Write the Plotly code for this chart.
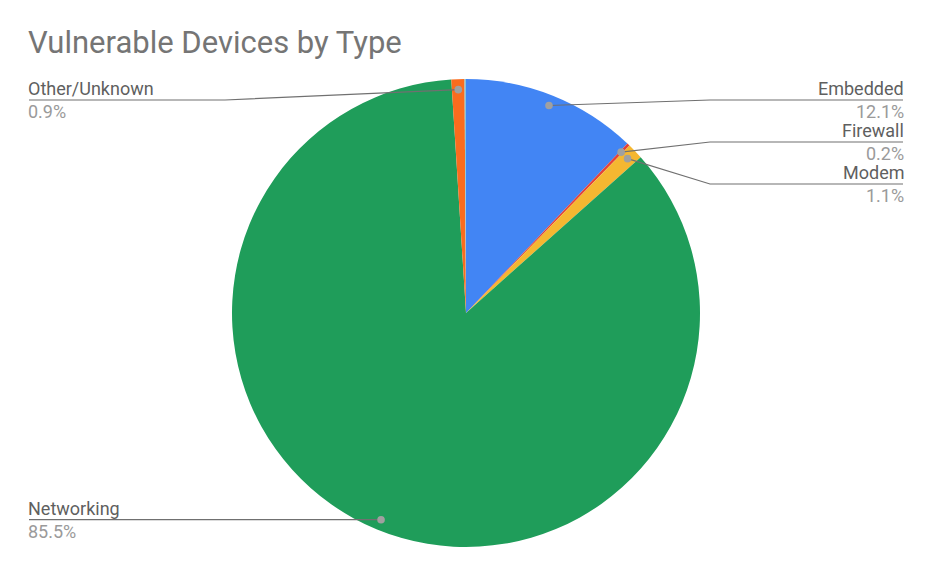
import math
import plotly.graph_objects as go

# Device categories and their share of vulnerable devices (%)
categories = ["Embedded", "Firewall", "Modem", "Networking", "Other/Unknown", "Printer"]
shares = [12.1, 0.2, 1.1, 85.5, 0.9, 0.1]
colors = ["#4285F4", "#E2433B", "#F5B731", "#1F9D5A", "#FA6C1E", "#86C5D8"]
labeled = ["Embedded", "Firewall", "Modem", "Networking", "Other/Unknown"]

W, H = 930, 574
CX, CY, R = 466, 313, 234          # pie centre and radius in pixels
DOT_R = 0.955 * R                  # radius where leader lines start

# label placement: (side, y of underline in px, elbow x in px)
placement = {
    "Embedded": ("right", 100, 710),
    "Firewall": ("right", 142, 710),
    "Modem": ("right", 184, 710),
    "Networking": ("left", None, None),
    "Other/Unknown": ("left", 100, 225),
}
RIGHT_X, LEFT_X = 905, 27


def px(x):
    return x / W


def py(y):
    return 1 - y / H


fig = go.Figure()
fig.add_trace(go.Pie(
    labels=categories,
    values=shares,
    sort=False,
    direction="clockwise",
    rotation=0,
    marker=dict(colors=colors, line=dict(width=0)),
    textinfo="none",
    hoverinfo="label+percent",
    showlegend=False,
    domain=dict(x=[px(CX - R), px(CX + R)], y=[py(CY + R), py(CY - R)]),
))

shapes, annotations = [], []
total = sum(shares)
cum = 0.0
for name, val in zip(categories, shares):
    mid = (cum + val / 2) / total * 2 * math.pi
    cum += val
    if name not in labeled:
        continue
    dx = CX + DOT_R * math.sin(mid)
    dy = CY - DOT_R * math.cos(mid)
    side, ly, ex = placement[name]
    if ly is None:
        ly = dy
        ex = dx
    end_x = RIGHT_X - 2 if side == "right" else LEFT_X + 2
    path = f"M {px(dx)},{py(dy)} L {px(ex)},{py(ly)} L {px(end_x)},{py(ly)}"
    shapes.append(dict(type="path", path=path, xref="paper", yref="paper",
                       line=dict(color="#707070", width=1.2), layer="above"))
    rr = 3.8
    shapes.append(dict(type="circle", xref="paper", yref="paper",
                       x0=px(dx - rr), x1=px(dx + rr), y0=py(dy + rr), y1=py(dy - rr),
                       fillcolor="#a0a0a0", line=dict(width=0), layer="above"))
    anchor = "right" if side == "right" else "left"
    tx = RIGHT_X if side == "right" else LEFT_X
    annotations.append(dict(x=px(tx), y=py(ly), xref="paper", yref="paper",
                            text=name, showarrow=False, xanchor=anchor, yanchor="bottom",
                            borderpad=0,
                            font=dict(family="Roboto", size=18, color="#5f5f5f")))
    annotations.append(dict(x=px(tx), y=py(ly), xref="paper", yref="paper",
                            text=f"{val:.1f}%", showarrow=False, xanchor=anchor, yanchor="top",
                            borderpad=0,
                            font=dict(family="Roboto", size=18, color="#9a9a9a")))

annotations.append(dict(x=px(26), y=py(43), xref="paper", yref="paper",
                        text="Vulnerable Devices by Type", showarrow=False,
                        xanchor="left", yanchor="middle",
                        font=dict(family="Roboto", size=31, color="#757575")))

fig.update_layout(
    width=W, height=H,
    margin=dict(l=0, r=0, t=0, b=0),
    paper_bgcolor="white",
    plot_bgcolor="white",
    shapes=shapes,
    annotations=annotations,
)

fig.write_html("out.html")
